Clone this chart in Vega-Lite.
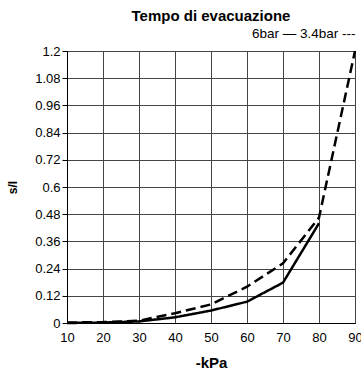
{
  "$schema": "https://vega.github.io/schema/vega-lite/v6.json",
  "autosize": "none",
  "width": 288,
  "height": 272,
  "padding": {"left": 67, "top": 51, "right": 6, "bottom": 46},
  "title": {"text": "Tempo di evacuazione", "font": "Liberation Sans", "fontSize": 15, "fontWeight": "bold", "color": "black", "anchor": "middle", "offset": 2},
  "config": {
    "font": "Liberation Sans",
    "view": {"stroke": "black", "strokeWidth": 1},
    "axis": {"labelFont": "Liberation Sans", "titleFont": "Liberation Sans", "labelColor": "black", "titleColor": "black", "domainColor": "black", "tickColor": "black", "gridColor": "#444", "gridOpacity": 1, "gridWidth": 1}
  },
  "data": {"values": [
    {"kpa": 10, "t": 0.0, "serie": "6bar"},
    {"kpa": 20, "t": 0.002, "serie": "6bar"},
    {"kpa": 30, "t": 0.007, "serie": "6bar"},
    {"kpa": 40, "t": 0.025, "serie": "6bar"},
    {"kpa": 50, "t": 0.055, "serie": "6bar"},
    {"kpa": 60, "t": 0.094, "serie": "6bar"},
    {"kpa": 70, "t": 0.178, "serie": "6bar"},
    {"kpa": 80, "t": 0.44, "serie": "6bar"},
    {"kpa": 10, "t": 0.002, "serie": "3.4bar"},
    {"kpa": 20, "t": 0.004, "serie": "3.4bar"},
    {"kpa": 30, "t": 0.01, "serie": "3.4bar"},
    {"kpa": 40, "t": 0.043, "serie": "3.4bar"},
    {"kpa": 50, "t": 0.082, "serie": "3.4bar"},
    {"kpa": 60, "t": 0.16, "serie": "3.4bar"},
    {"kpa": 70, "t": 0.263, "serie": "3.4bar"},
    {"kpa": 80, "t": 0.465, "serie": "3.4bar"},
    {"kpa": 90, "t": 1.2, "serie": "3.4bar"}
  ]},
  "resolve": {"axis": {"x": "independent"}},
  "layer": [
    {
      "mark": {"type": "line", "color": "black", "strokeWidth": 2.5, "clip": false},
      "encoding": {
        "x": {"field": "kpa", "type": "quantitative", "scale": {"domain": [10, 90], "nice": false, "zero": false},
          "axis": {"title": "-kPa", "titleFontSize": 15, "titleFontWeight": "bold", "titlePadding": 11, "values": [10,20,30,40,50,60,70,80,90], "labelFontSize": 13, "ticks": false, "labelPadding": 8, "grid": true, "domain": true, "labelFlush": false}},
        "y": {"field": "t", "type": "quantitative", "scale": {"domain": [0, 1.2], "nice": false},
          "axis": {"title": "s/l", "titleFontSize": 12, "titleFontWeight": "bold", "titlePadding": 15, "values": [0,0.12,0.24,0.36,0.48,0.6,0.72,0.84,0.96,1.08,1.2], "format": ".2~f", "labelFontSize": 13, "tickSize": 5, "labelPadding": 2, "grid": true}},
        "strokeDash": {"field": "serie", "type": "nominal", "scale": {"domain": ["6bar", "3.4bar"], "range": [[1, 0], [10, 5]]}, "legend": null}
      }
    },
    {
      "mark": {"type": "point", "opacity": 0},
      "encoding": {
        "x": {"field": "kpa", "type": "quantitative",
          "axis": {"orient": "top", "title": "6bar — 3.4bar ---", "titleFontSize": 13.5, "titleFontWeight": "normal", "titleAnchor": "end", "titlePadding": 11, "labels": false, "ticks": false, "domain": false, "grid": false}}
      }
    }
  ]
}
